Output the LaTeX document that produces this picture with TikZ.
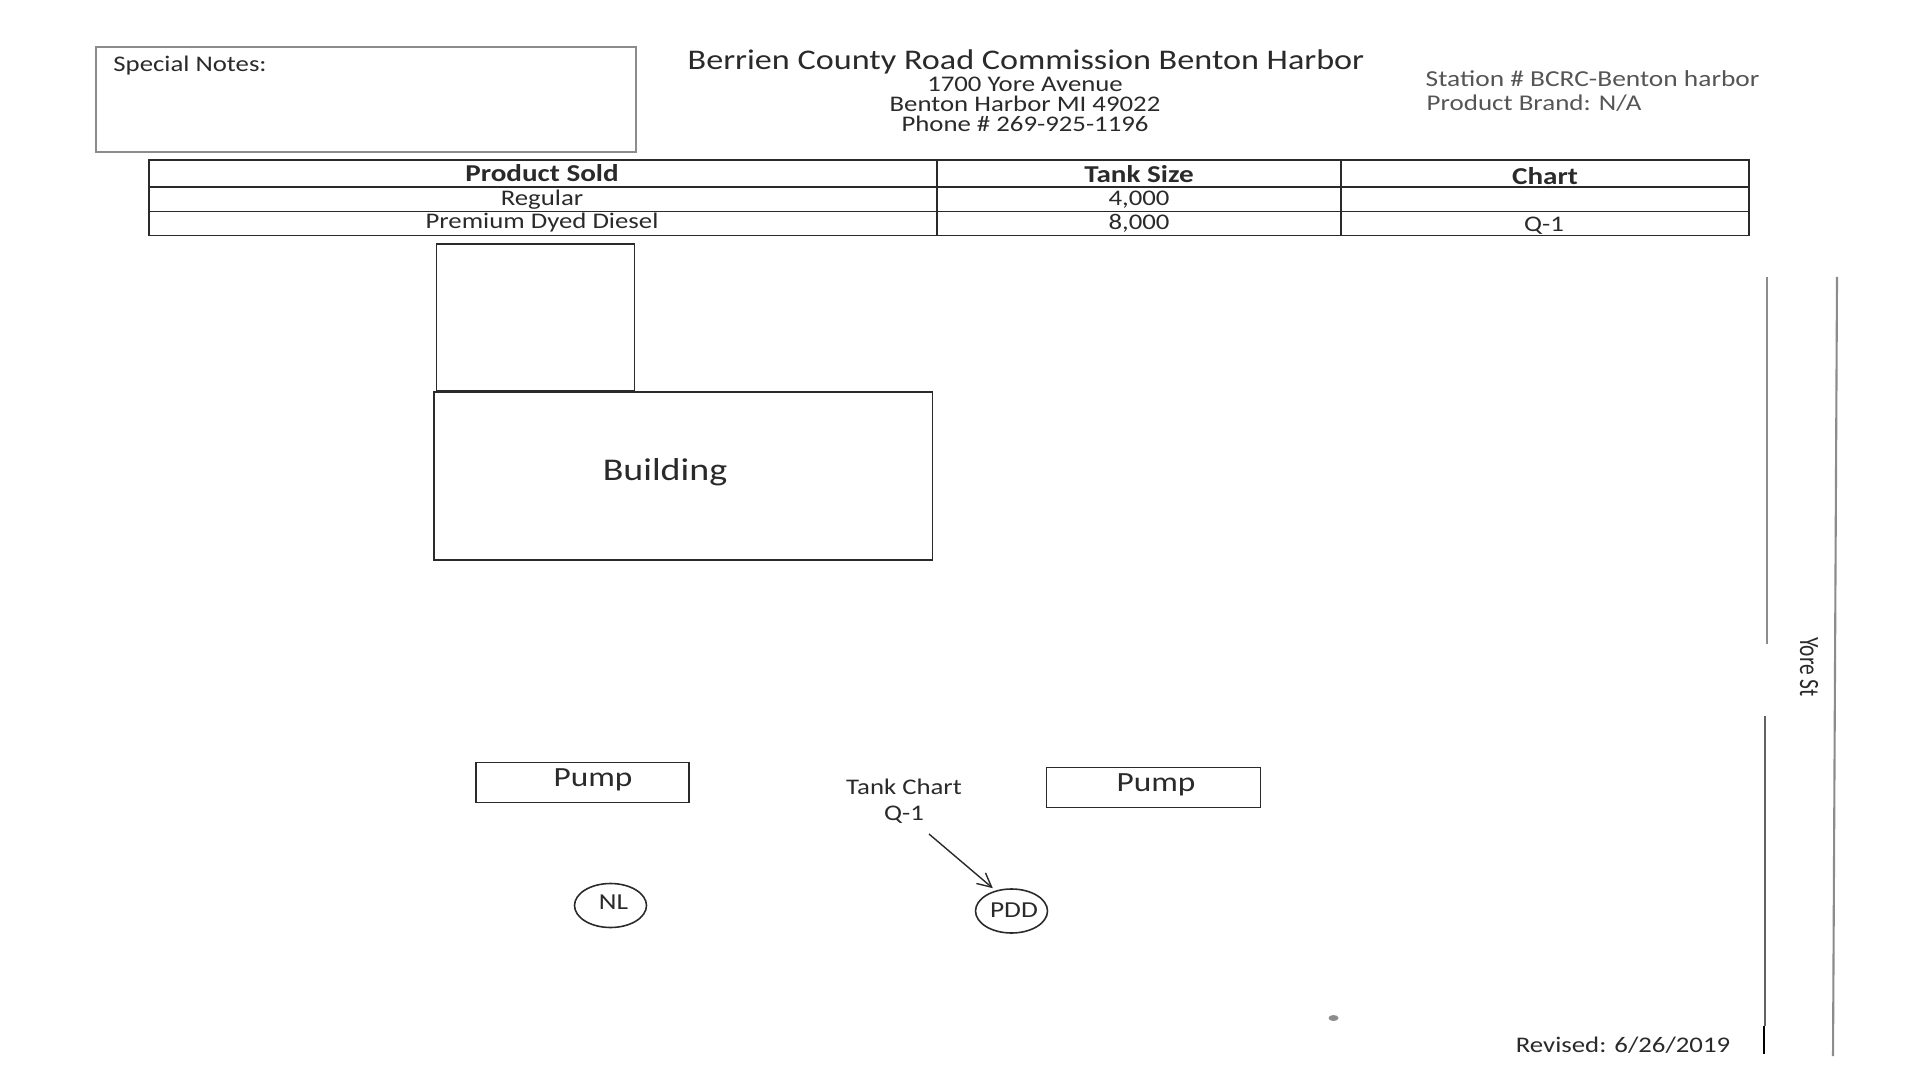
\documentclass[tikz,border=0pt]{standalone}
\usepackage{fontspec}
\setmainfont[FakeStretch=1.2]{Carlito}
\usetikzlibrary{arrows.meta,shapes.geometric}
\definecolor{scanink}{HTML}{2A2A2A}
\definecolor{scangrey}{HTML}{8C8C8C}
\tikzset{
  inkline/.style={draw=scanink,line width=0.45pt},
  txt/.style={text=scanink,inner sep=0pt,font=\fontsize{6.35pt}{7pt}\selectfont},
  head/.style={txt,font=\fontsize{6.9pt}{8pt}\selectfont\bfseries},
  pumpbox/.style={inkline,minimum height=0.40cm,anchor=north west,inner sep=0pt},
  tank/.style={inkline,ellipse,minimum width=0.72cm,minimum height=0.44cm,inner sep=0pt}
}
\begin{document}
\begin{tikzpicture}
  \useasboundingbox (0,0) rectangle (19.2,-10.8);
  % notes box and heading
  \node[draw=scangrey,line width=0.55pt,minimum width=5.40cm,minimum height=1.05cm,anchor=north west,inner sep=0pt] (notes) at (0.95,-0.46) {};
  \node[txt,anchor=west] (notestxt) at (1.127,-0.652) {Special Notes:};
  \node[txt,font=\fontsize{8.1pt}{9pt}\selectfont] (title) at (10.26,-0.615) {Berrien County Road Commission Benton Harbor};
  \foreach \t/\y/\n in {1700 Yore Avenue/0.84/a,Benton Harbor MI 49022/1.04/b,Phone \# 269-925-1196/1.24/c}
    \node[txt] (addr\n) at (10.25,-\y) {\t};
  \node[txt,text=scanink!80,anchor=west,font=\fontsize{6.5pt}{7pt}\selectfont] (station) at (14.25,-0.783) {Station \# BCRC-Benton harbor};
  \node[txt,text=scanink!80,anchor=west,font=\fontsize{6.4pt}{7pt}\selectfont] (brand) at (14.26,-1.028) {Product Brand: N/A};
  % table
  \draw[inkline] (1.49,-1.60) rectangle (17.49,-2.355);
  \foreach \y in {1.87,2.115}
    \draw[inkline] (1.49,-\y) -- (17.49,-\y);
  \foreach \x in {9.37,13.41}
    \draw[inkline] (\x,-1.60) -- (\x,-2.355);
  \node[head] (prodh) at (5.42,-1.727) {Product Sold};
  \node[txt] (prod1) at (5.42,-1.995) {Regular};
  \node[txt] (prod2) at (5.42,-2.224) {Premium Dyed Diesel};
  \node[head] (sizeh) at (11.39,-1.745) {Tank Size};
  \node[txt] (size1) at (11.39,-1.996) {4,000};
  \node[txt] (size2) at (11.39,-2.235) {8,000};
  \node[head] (charth) at (15.45,-1.757) {Chart};
  \node[txt] (chart2) at (15.44,-2.255) {Q-1};
  % building
  \node[inkline,minimum width=1.98cm,minimum height=1.47cm,anchor=north west,inner sep=0pt] (annex) at (4.355,-2.43) {};
  \node[inkline,minimum width=4.985cm,minimum height=1.68cm,anchor=north west,inner sep=0pt] (building) at (4.33,-3.91) {};
  \node[txt,font=\fontsize{9pt}{10pt}\selectfont] (buildingtxt) at (6.65,-4.725) {Building};
  % pumps
  \node[pumpbox,minimum width=2.13cm] (pumpa) at (4.75,-7.615) {};
  \node[txt,font=\fontsize{7.9pt}{9pt}\selectfont] (pumpatxt) at (5.93,-7.795) {Pump};
  \node[pumpbox,minimum width=2.14cm] (pumpb) at (10.455,-7.665) {};
  \node[txt,font=\fontsize{7.9pt}{9pt}\selectfont] (pumpbtxt) at (11.56,-7.845) {Pump};
  % tanks
  \node[tank] (nl) at (6.105,-9.055) {};
  \node[txt,font=\fontsize{6.5pt}{7pt}\selectfont] (nltxt) at (6.135,-9.025) {NL};
  \node[tank] (pdd) at (10.115,-9.11) {};
  \node[txt,font=\fontsize{6.5pt}{7pt}\selectfont] (pddtxt) at (10.14,-9.10) {PDD};
  \node[txt] (chartlbl) at (9.04,-7.871) {Tank Chart};
  \node[txt] (chartq) at (9.04,-8.15) {Q-1};
  \coordinate (arrowstart) at (9.29,-8.34);
  \draw[scanink,line width=0.4pt,shorten >=1pt,-{Straight Barb[length=1.4mm,width=1.4mm]}] (arrowstart) -- (pdd.128);
  % road
  \draw[scangrey,line width=0.6pt] (17.67,-2.77) -- (17.67,-6.44);
  \draw[scangrey!70!black,line width=0.6pt] (17.65,-7.16) -- (17.65,-10.26);
  \draw[black,line width=0.6pt] (17.64,-10.26) -- (17.64,-10.54);
  \draw[scangrey,line width=0.6pt] (18.37,-2.77) -- (18.33,-10.56);
  \node[txt,rotate=-90,xscale=0.80,yscale=1.25,transform shape] (yore) at (18.09,-6.67) {Yore St};
  \node[txt] (revised) at (16.23,-10.45) {Revised: 6/26/2019};
  \fill[scangrey] (13.335,-10.18) ellipse (0.05 and 0.03);
\end{tikzpicture}
\end{document}
